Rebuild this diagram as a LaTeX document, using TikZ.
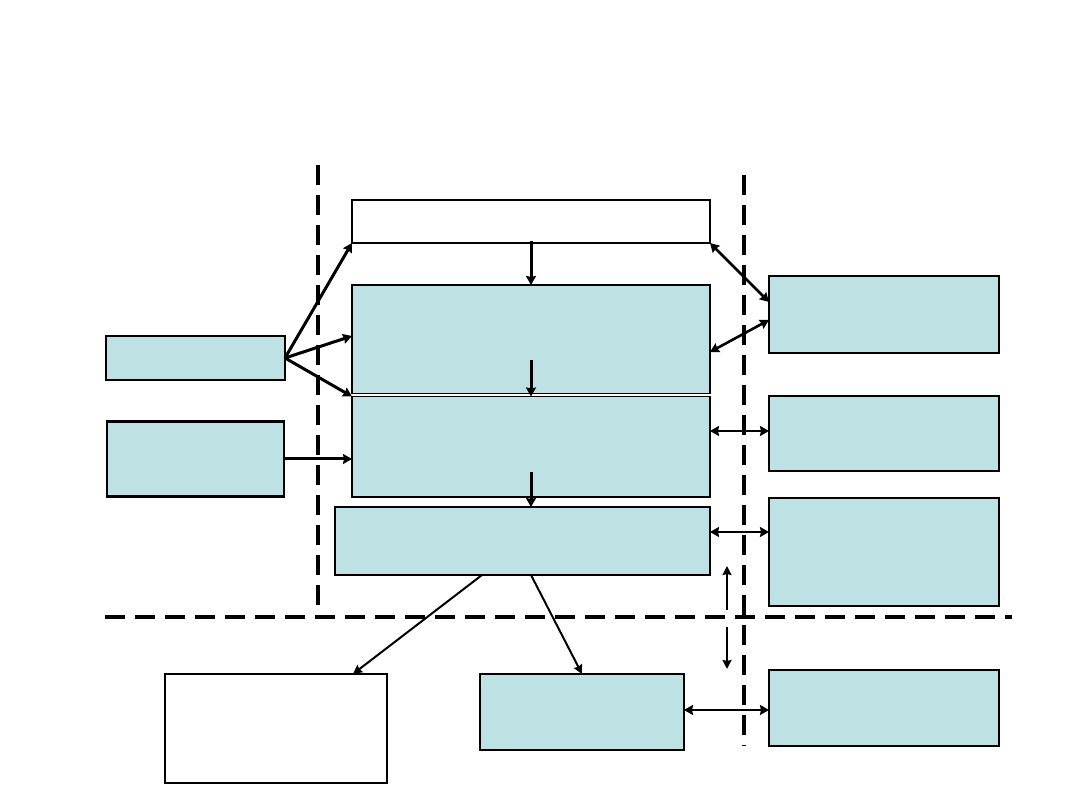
\documentclass[tikz,border=0pt]{standalone}
\usetikzlibrary{arrows.meta}
\definecolor{boxblue}{RGB}{190,225,227}
\tikzset{
  bx/.style={draw=black, line width=1.3pt, inner sep=0pt, outer sep=0pt},
  bluebx/.style={bx, fill=boxblue},
  whitebx/.style={bx, fill=white},
  arr/.style={line width=3pt, -{Stealth[length=9pt,width=10pt,inset=1pt]}},
  darr/.style={line width=2.6pt, {Stealth[length=9pt,width=10pt,inset=1pt]}-{Stealth[length=9pt,width=10pt,inset=1pt]}},
  thinarr/.style={line width=2pt, -{Stealth[length=9pt,width=9pt,inset=1pt]}},
  divider/.style={line width=3.8pt, dash pattern=on 20pt off 10pt}
}
\newcommand{\boxat}[6]{\node[#1, minimum width={#4-#3}, minimum height={#6-#5}] (#2) at ({(#3+#4)/2},{(#5+#6)/2}) {};}
\begin{document}
\begin{tikzpicture}[x=1pt,y=-1pt]
\useasboundingbox (0,0) rectangle (1080,810);
% dividers
\coordinate (v1a) at (318,165); \coordinate (v1b) at (318,607);
\coordinate (v2a) at (744,175); \coordinate (v2b) at (744,746);
\coordinate (h1a) at (105,617); \coordinate (h1b) at (1012,617);
\draw[divider] (v1a) -- (v1b);
\draw[divider] (v2a) -- (v2b);
\draw[divider] (h1a) -- (h1b);
% boxes
\boxat{whitebx}{top}{352}{710}{200}{243}
\boxat{bluebx}{b1}{352}{710}{285}{393.5}
\boxat{bluebx}{b2}{352}{710}{396.5}{497}
\boxat{bluebx}{b3}{335}{710}{507}{575}
\boxat{bluebx}{l1}{106}{285}{336}{380}
\node[bluebx, line width=2.4pt, minimum width=177pt, minimum height=75pt] (l2) at (195.5,459) {};
\boxat{bluebx}{r1}{769}{999}{276}{353}
\boxat{bluebx}{r2}{769}{999}{396}{471}
\boxat{bluebx}{r3}{769}{999}{498}{606}
\boxat{bluebx}{r4}{769}{999}{670}{746}
\boxat{whitebx}{bw}{165}{387}{674}{783}
\boxat{bluebx}{bb}{480}{684}{674}{750}
% vertical flow arrows
\coordinate (s0) at (531,241);
\coordinate (s1) at (531,360);
\coordinate (s2) at (531,472);
\draw[arr] (s0) -- (b1.north -| s0);
\draw[arr] (s1) -- (b2.north -| s1);
\draw[arr] (s2) -- (b3.north -| s2);
% left inputs
\draw[arr] (l1.east) -- (top.south west);
\draw[arr] (l1.east) -- (b1.west |- 0,336);
\draw[arr] (l1.east) -- (b2.north west);
\draw[arr] (l2.east) -- (b2.west |- l2.east);
% right exchanges
\draw[darr] (top.south east) -- (r1.west |- 0,302);
\draw[darr] (b1.east |- 0,352) -- (r1.west |- 0,320);
\draw[darr] (b2.east |- 0,431) -- (r2.west |- 0,431);
\draw[darr] (b3.east |- 0,532) -- (r3.west |- 0,532);
\draw[darr] (bb.east |- 0,710) -- (r4.west |- 0,710);
% small arrows across divider
\coordinate (ua) at (727,610); \coordinate (ub) at (727,566);
\coordinate (da) at (727,627); \coordinate (db) at (727,669);
\draw[thinarr] (ua) -- (ub);
\draw[thinarr] (da) -- (db);
% outputs from b3
\draw[thinarr] (b3.south -| 482,0) -- (bw.north -| 353,0);
\draw[thinarr] (b3.south -| 531,0) -- (bb.north -| 582,0);
\end{tikzpicture}
\end{document}
